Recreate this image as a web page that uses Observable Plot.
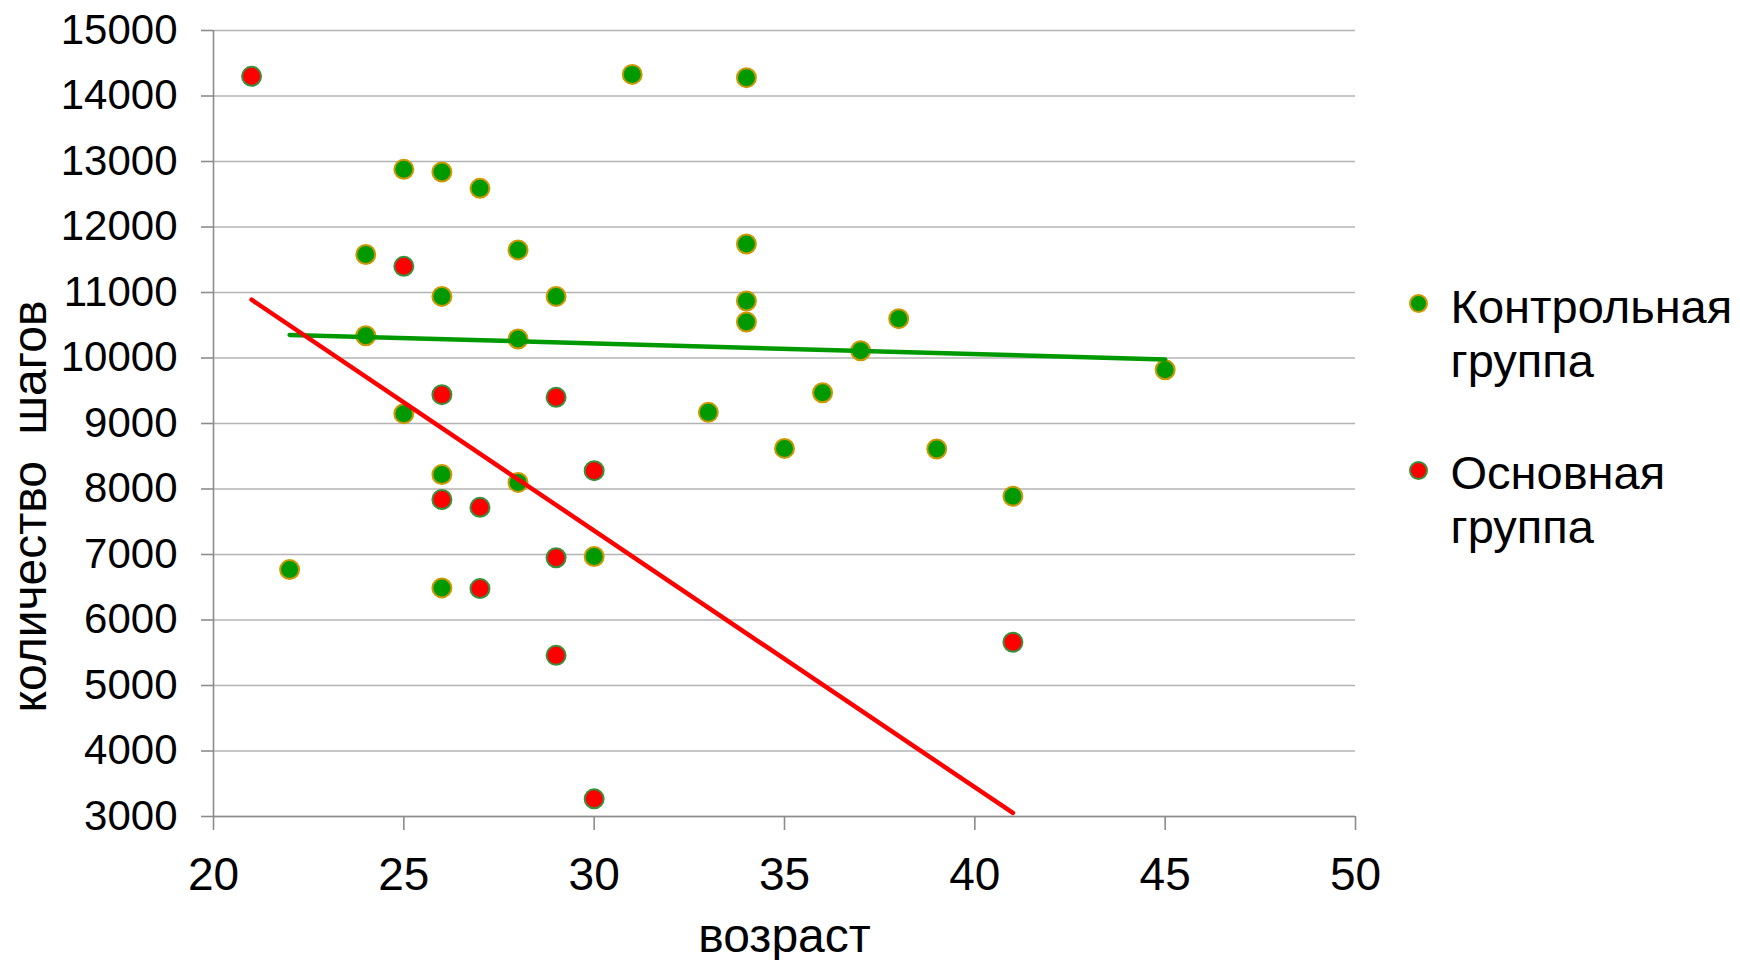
<!DOCTYPE html>
<html>
<head>
<meta charset="utf-8">
<script src="https://cdn.jsdelivr.net/npm/d3@7"></script>
<script src="https://cdn.jsdelivr.net/npm/@observablehq/plot@0.6"></script>
<style>
  html, body { margin: 0; padding: 0; background: #ffffff; overflow: hidden; }
  #chart svg { display: block; }
</style>
</head>
<body>
<div id="chart"></div>
<script>
// ---- data ----
const xTicks = [20, 25, 30, 35, 40, 45, 50];
const yTicks = [3000, 4000, 5000, 6000, 7000, 8000, 9000, 10000, 11000, 12000, 13000, 14000, 15000];

// Контрольная группа
const controlAge   = [22, 24, 24, 25, 25, 26, 26, 26, 26, 27, 28, 28, 28, 29, 30, 31, 33, 34, 34, 34, 34, 35, 36, 37, 38, 39, 41, 45];
const controlSteps = [6770, 11580, 10340, 12880, 9150, 12840, 10940, 8220, 6490, 12590, 11650, 10290, 8100, 10940, 6970, 14330, 9170, 14280, 11740, 10870, 10550, 8620, 9470, 10110, 10600, 8610, 7890, 9820];

// Основная группа
const mainAge   = [21, 25, 26, 26, 27, 27, 29, 29, 29, 30, 30, 41];
const mainSteps = [14300, 11400, 9440, 7840, 7720, 6480, 9400, 6950, 5460, 8280, 3270, 5660];

const seriesNames = ["Контрольная\nгруппа", "Основная\nгруппа"];
const xTitle = "возраст";
const yTitle = "количество\u00A0 шагов";

// ---- tables built from the arrays ----
const control = controlAge.map((a, i) => ({age: a, steps: controlSteps[i]}));
const main = mainAge.map((a, i) => ({age: a, steps: mainSteps[i]}));

// ---- styles ----
const FONT = "'Liberation Sans', Arial, Helvetica, sans-serif";
const greenFill = "#009900", greenStroke = "#cc9900";
const redFill = "#ff0000", redStroke = "#3a8f3a";
const gridColor = "#b4b4b4", axisColor = "#8c8c8c";
const markerStyles = [
  {fill: greenFill, stroke: greenStroke},
  {fill: redFill, stroke: redStroke}
];
const legendDotDy = [273, 440];
const legendTextDy = [346, 512];

const plot = Plot.plot({
  width: 1740,
  height: 960,
  marginLeft: 213,
  marginRight: 385,
  marginTop: 30,
  marginBottom: 144,
  style: {fontFamily: FONT, background: "#ffffff", color: "#000000", overflow: "visible"},
  x: {domain: [20, 50], ticks: xTicks},
  y: {domain: [3000, 15000], ticks: yTicks},
  marks: [
    Plot.gridY(yTicks, {stroke: gridColor, strokeOpacity: 1, strokeWidth: 1.6}),
    Plot.ruleX([20], {stroke: axisColor, strokeWidth: 1.6}),
    Plot.ruleY([3000], {stroke: axisColor, strokeWidth: 1.6}),
    Plot.axisY(yTicks, {
      tickSize: 12, tickPadding: 24, fontSize: 42, stroke: axisColor, strokeWidth: 1.6,
      fill: "#000000", tickFormat: d => String(d), label: null
    }),
    Plot.axisX(xTicks, {
      tickSize: 14, tickPadding: 27, fontSize: 46, stroke: axisColor, strokeWidth: 1.6,
      fill: "#000000", tickFormat: d => String(d), label: null
    }),
    Plot.dot(control, {x: "age", y: "steps", r: 9.5, fill: greenFill, stroke: greenStroke, strokeWidth: 2}),
    Plot.dot(main, {x: "age", y: "steps", r: 9.5, fill: redFill, stroke: redStroke, strokeWidth: 2}),
    Plot.linearRegressionY(control, {x: "age", y: "steps", ci: 0, stroke: greenFill, strokeWidth: 4.5, strokeLinecap: "round"}),
    Plot.linearRegressionY(main, {x: "age", y: "steps", ci: 0, stroke: redFill, strokeWidth: 4.5, strokeLinecap: "round"}),
    // axis titles
    Plot.text([xTitle], {
      text: d => d, frameAnchor: "bottom", dy: 135, lineAnchor: "bottom",
      fontSize: 48, fill: "#000000"
    }),
    Plot.text([yTitle], {
      text: d => d, frameAnchor: "left", dx: -168, dy: 83, rotate: -90,
      lineAnchor: "bottom", textAnchor: "middle", fontSize: 48, fill: "#000000"
    }),
    // legend
    ...seriesNames.map((name, i) => Plot.dot([name], {
      frameAnchor: "top-left", dx: 1205, dy: legendDotDy[i], r: 8.5,
      fill: markerStyles[i].fill, stroke: markerStyles[i].stroke, strokeWidth: 2
    })),
    ...seriesNames.map((name, i) => Plot.text([name], {
      text: d => d, frameAnchor: "top-left", dx: 1237, dy: legendTextDy[i],
      textAnchor: "start", lineAnchor: "bottom", lineHeight: 1.14,
      fontSize: 47, fill: "#000000"
    }))
  ]
});

document.getElementById("chart").appendChild(plot);
</script>
</body>
</html>
